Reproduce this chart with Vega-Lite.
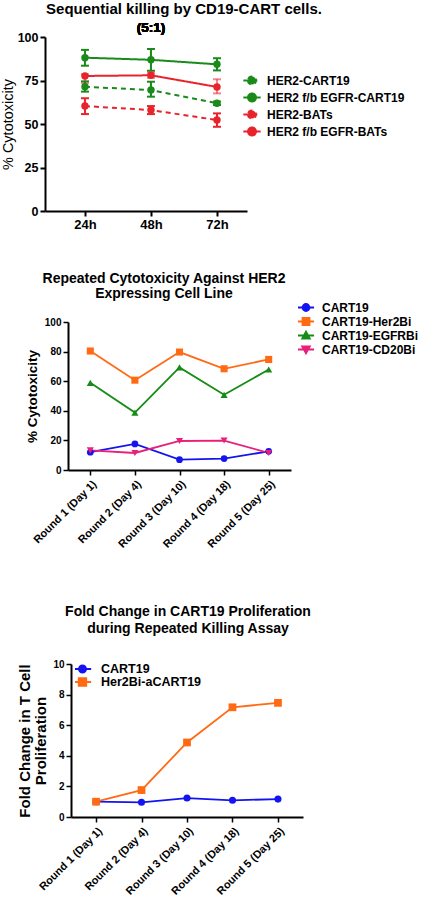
{
  "$schema": "https://vega.github.io/schema/vega-lite/v6.json",
  "padding": {"left": 0, "top": 2, "right": 0, "bottom": 0},
  "background": "white",
  "config": {
    "font": "Liberation Sans",
    "view": {"stroke": null},
    "axis": {"grid": false, "labelColor": "black", "titleColor": "black", "domainColor": "black", "tickColor": "black", "labelFontWeight": "bold", "titleFontWeight": "bold"},
    "legend": {"labelColor": "black"},
    "title": {"color": "black", "fontWeight": "bold"}
  },
  "resolve": {"scale": {"color": "independent", "shape": "independent", "strokeDash": "independent"}},
  "spacing": 40,
  "vconcat": [
    {
      "width": 202,
      "height": 174,
      "title": {"text": "Sequential killing by CD19-CART cells.", "fontSize": 15, "frame": "group", "anchor": "middle", "dx": 38, "offset": 4},
      "data": {"values": [
        {"series": "HER2-CART19", "time": "24h", "value": 71.4, "lo": 68.6, "hi": 74.5},
        {"series": "HER2-CART19", "time": "48h", "value": 69.5, "lo": 65.7, "hi": 74.3},
        {"series": "HER2-CART19", "time": "72h", "value": 61.9, "lo": 60.9, "hi": 62.9},
        {"series": "HER2 f/b EGFR-CART19", "time": "24h", "value": 88.1, "lo": 83.5, "hi": 92.6},
        {"series": "HER2 f/b EGFR-CART19", "time": "48h", "value": 86.9, "lo": 80.6, "hi": 93.1},
        {"series": "HER2 f/b EGFR-CART19", "time": "72h", "value": 84.3, "lo": 80.8, "hi": 87.8},
        {"series": "HER2-BATs", "time": "24h", "value": 60.3, "lo": 55.7, "hi": 64.8},
        {"series": "HER2-BATs", "time": "48h", "value": 58.0, "lo": 55.7, "hi": 60.3},
        {"series": "HER2-BATs", "time": "72h", "value": 52.3, "lo": 48.4, "hi": 56.1},
        {"series": "HER2 f/b EGFR-BATs", "time": "24h", "value": 77.6, "lo": 73.5, "hi": 78.6},
        {"series": "HER2 f/b EGFR-BATs", "time": "48h", "value": 78.0, "lo": 76.5, "hi": 79.5},
        {"series": "HER2 f/b EGFR-BATs", "time": "72h", "value": 71.3, "lo": 67.6, "hi": 75.7}
      ]},
      "encoding": {
        "x": {"field": "time", "type": "nominal", "scale": {"type": "point", "domain": ["24h", "48h", "72h"], "padding": 0.53, "align": 0.571},
              "axis": {"title": null, "labelAngle": 0, "labelFontSize": 13, "labelPadding": 2, "tickSize": 5, "tickWidth": 2, "domainWidth": 2}}
      },
      "layer": [
        {
          "mark": {"type": "rule", "strokeWidth": 2},
          "encoding": {
            "y": {"field": "lo", "type": "quantitative", "scale": {"domain": [0, 100], "nice": false}, "title": "% Cytotoxicity",
                  "axis": {"values": [0, 25, 50, 75, 100], "labelFontSize": 12.5, "labelPadding": 2, "tickSize": 5, "tickWidth": 2, "domainWidth": 2, "titleFontSize": 14.5, "titleFontWeight": "normal", "titlePadding": 2}},
            "y2": {"field": "hi"},
            "color": {"field": "series", "type": "nominal"},
            "opacity": {"condition": {"test": "datum.series === 'HER2 f/b EGFR-BATs'", "value": 0.55}, "value": 1}
          }
        },
        {
          "mark": {"type": "tick", "orient": "horizontal", "size": 8, "thickness": 2},
          "encoding": {
            "y": {"field": "lo", "type": "quantitative", "scale": {"domain": [0, 100], "nice": false}, "title": "% Cytotoxicity"},
            "color": {"field": "series", "type": "nominal"},
            "opacity": {"condition": {"test": "datum.series === 'HER2 f/b EGFR-BATs'", "value": 0.55}, "value": 1}
          }
        },
        {
          "mark": {"type": "tick", "orient": "horizontal", "size": 8, "thickness": 2},
          "encoding": {
            "y": {"field": "hi", "type": "quantitative", "scale": {"domain": [0, 100], "nice": false}, "title": "% Cytotoxicity"},
            "color": {"field": "series", "type": "nominal"},
            "opacity": {"condition": {"test": "datum.series === 'HER2 f/b EGFR-BATs'", "value": 0.55}, "value": 1}
          }
        },
        {
          "mark": {"type": "line", "strokeWidth": 2},
          "encoding": {
            "y": {"field": "value", "type": "quantitative", "scale": {"domain": [0, 100], "nice": false}, "title": "% Cytotoxicity"},
            "color": {"field": "series", "type": "nominal",
              "scale": {"domain": ["HER2-CART19", "HER2 f/b EGFR-CART19", "HER2-BATs", "HER2 f/b EGFR-BATs"], "range": ["#1a8a1a", "#1a8a1a", "#e8232b", "#e8232b"]},
              "legend": {
                "orient": "none", "legendX": 197, "legendY": 35, "title": null, "padding": 0,
                "symbolType": "M-1,0H1M-0.46,0A0.46,0.46,0,1,0,0.46,0A0.46,0.46,0,1,0,-0.46,0Z",
                "symbolSize": 300, "symbolStrokeWidth": 2, "labelFontSize": 12, "labelFontWeight": "bold", "labelOffset": 5,
                "clipHeight": 17, "rowPadding": 0,
                "encode": {"symbols": {"update": {
                  "fill": {"signal": "indexof(datum.value,'BATs')>=0 ? '#e8232b' : '#1a8a1a'"},
                  "stroke": {"signal": "indexof(datum.value,'BATs')>=0 ? '#e8232b' : '#1a8a1a'"},
                  "strokeDash": {"signal": "indexof(datum.value,'f/b')>=0 ? [] : [4,3]"},
                  "strokeWidth": {"value": 2},
                  "opacity": {"value": 1}
                }}}
              }
            },
            "strokeDash": {"field": "series", "type": "nominal",
              "scale": {"domain": ["HER2-CART19", "HER2 f/b EGFR-CART19", "HER2-BATs", "HER2 f/b EGFR-BATs"], "range": [[5, 4], [1, 0], [5, 4], [1, 0]]},
              "legend": null}
          }
        },
        {
          "mark": {"type": "point", "filled": true, "size": 55, "opacity": 1},
          "encoding": {
            "y": {"field": "value", "type": "quantitative", "scale": {"domain": [0, 100], "nice": false}, "title": "% Cytotoxicity"},
            "color": {"field": "series", "type": "nominal"}
          }
        },
        {
          "mark": {"type": "text", "fontSize": 13.5, "fontWeight": "bold", "baseline": "middle", "align": "center", "color": "black"},
          "encoding": {
            "x": {"datum": "48h"},
            "y": {"datum": 105, "type": "quantitative"},
            "text": {"value": "(5:1)"}
          }
        }
      ]
    },
    {
      "spacing": 55,
      "resolve": {"scale": {"color": "independent", "shape": "independent"}},
      "vconcat": [
        {
          "spacing": -21,
          "resolve": {"scale": {"color": "independent"}},
          "hconcat": [
            {"width": 1, "height": 1, "data": {"values": []}, "mark": "point"},
            {
              "width": 223,
              "height": 148,
              "title": {"text": ["Repeated Cytotoxicity Against HER2", "Expressing Cell Line"], "fontSize": 14, "lineHeight": 15, "frame": "group", "anchor": "middle", "dx": -15.5, "offset": 0},
              "data": {"values": [
                {"series": "CART19", "round": "Round 1 (Day 1)", "value": 12.0},
                {"series": "CART19", "round": "Round 2 (Day 4)", "value": 17.6},
                {"series": "CART19", "round": "Round 3 (Day 10)", "value": 7.0},
                {"series": "CART19", "round": "Round 4 (Day 18)", "value": 7.7},
                {"series": "CART19", "round": "Round 5 (Day 25)", "value": 12.6},
                {"series": "CART19-Her2Bi", "round": "Round 1 (Day 1)", "value": 80.4},
                {"series": "CART19-Her2Bi", "round": "Round 2 (Day 4)", "value": 60.7},
                {"series": "CART19-Her2Bi", "round": "Round 3 (Day 10)", "value": 79.7},
                {"series": "CART19-Her2Bi", "round": "Round 4 (Day 18)", "value": 68.4},
                {"series": "CART19-Her2Bi", "round": "Round 5 (Day 25)", "value": 74.7},
                {"series": "CART19-EGFRBi", "round": "Round 1 (Day 1)", "value": 58.9},
                {"series": "CART19-EGFRBi", "round": "Round 2 (Day 4)", "value": 38.8},
                {"series": "CART19-EGFRBi", "round": "Round 3 (Day 10)", "value": 69.3},
                {"series": "CART19-EGFRBi", "round": "Round 4 (Day 18)", "value": 50.8},
                {"series": "CART19-EGFRBi", "round": "Round 5 (Day 25)", "value": 67.9},
                {"series": "CART19-CD20Bi", "round": "Round 1 (Day 1)", "value": 13.3},
                {"series": "CART19-CD20Bi", "round": "Round 2 (Day 4)", "value": 11.5},
                {"series": "CART19-CD20Bi", "round": "Round 3 (Day 10)", "value": 19.6},
                {"series": "CART19-CD20Bi", "round": "Round 4 (Day 18)", "value": 19.9},
                {"series": "CART19-CD20Bi", "round": "Round 5 (Day 25)", "value": 11.5}
              ]},
              "encoding": {
                "x": {"field": "round", "type": "nominal",
                      "scale": {"type": "point", "domain": ["Round 1 (Day 1)", "Round 2 (Day 4)", "Round 3 (Day 10)", "Round 4 (Day 18)", "Round 5 (Day 25)"], "padding": 0.5},
                      "axis": {"title": null, "labelAngle": -45, "labelFontSize": 11, "labelPadding": 3, "tickSize": 5, "tickWidth": 1.5, "domainWidth": 2}},
                "y": {"field": "value", "type": "quantitative", "scale": {"domain": [0, 100], "nice": false}, "title": "% Cytotoxicity",
                      "axis": {"values": [0, 20, 40, 60, 80, 100], "labelFontSize": 10, "labelPadding": 2, "tickSize": 5, "tickWidth": 1.5, "domainWidth": 2, "titleFontSize": 13.5, "titlePadding": 5}}
              },
              "layer": [
                {
                  "mark": {"type": "line", "strokeWidth": 1.8},
                  "encoding": {
                    "color": {"field": "series", "type": "nominal",
                      "scale": {"domain": ["CART19", "CART19-Her2Bi", "CART19-EGFRBi", "CART19-CD20Bi"], "range": ["#1414f0", "#ff6a13", "#168c16", "#e8207a"]},
                      "legend": {
                        "orient": "none", "legendX": 230, "legendY": -21.5, "title": null, "padding": 0,
                        "symbolType": "M-1.15,0H1.15M-0.5,0A0.5,0.5,0,1,0,0.5,0A0.5,0.5,0,1,0,-0.5,0Z",
                        "symbolSize": 196, "symbolStrokeWidth": 1.8, "labelFontSize": 12, "labelFontWeight": "bold", "labelOffset": 8,
                        "clipHeight": 14, "rowPadding": 0,
                        "encode": {"symbols": {"update": {
                          "shape": {"signal": "datum.value==='CART19' ? 'M-1.15,0H1.15M-0.5,0A0.5,0.5,0,1,0,0.5,0A0.5,0.5,0,1,0,-0.5,0Z' : datum.value==='CART19-Her2Bi' ? 'M-1.15,0H1.15M-0.5,-0.5H0.5V0.5H-0.5Z' : datum.value==='CART19-EGFRBi' ? 'M-1.15,0H1.15M0,-0.55L0.55,0.45H-0.55Z' : 'M-1.15,0H1.15M0,0.55L0.55,-0.45H-0.55Z'"},
                          "fill": {"signal": "datum.value==='CART19' ? '#1414f0' : datum.value==='CART19-Her2Bi' ? '#ff6a13' : datum.value==='CART19-EGFRBi' ? '#168c16' : '#e8207a'"},
                          "stroke": {"signal": "datum.value==='CART19' ? '#1414f0' : datum.value==='CART19-Her2Bi' ? '#ff6a13' : datum.value==='CART19-EGFRBi' ? '#168c16' : '#e8207a'"},
                          "strokeWidth": {"value": 1.8},
                          "opacity": {"value": 1}
                        }}}
                      }
                    }
                  }
                },
                {
                  "transform": [{"filter": {"field": "series", "equal": "CART19"}}],
                  "mark": {"type": "point", "filled": true, "size": 45, "opacity": 1, "shape": "circle"},
                  "encoding": {"color": {"field": "series", "type": "nominal", "legend": null}}
                },
                {
                  "transform": [{"filter": {"field": "series", "equal": "CART19-Her2Bi"}}],
                  "mark": {"type": "point", "filled": true, "size": 50, "opacity": 1, "shape": "square"},
                  "encoding": {"color": {"field": "series", "type": "nominal", "legend": null}}
                },
                {
                  "transform": [{"filter": {"field": "series", "equal": "CART19-EGFRBi"}}],
                  "mark": {"type": "point", "filled": true, "size": 50, "opacity": 1, "shape": "triangle-up"},
                  "encoding": {"color": {"field": "series", "type": "nominal", "legend": null}}
                },
                {
                  "transform": [{"filter": {"field": "series", "equal": "CART19-CD20Bi"}}],
                  "mark": {"type": "point", "filled": true, "size": 50, "opacity": 1, "shape": "triangle-down"},
                  "encoding": {"color": {"field": "series", "type": "nominal", "legend": null}}
                }
              ]
            }
          ]
        },
        {
          "spacing": -29,
          "resolve": {"scale": {"color": "independent"}},
          "hconcat": [
            {"width": 1, "height": 1, "data": {"values": []}, "mark": "point"},
            {
              "width": 232,
              "height": 153,
              "title": {"text": ["Fold Change in CART19 Proliferation", "during Repeated Killing Assay"], "fontSize": 14, "lineHeight": 17, "frame": "group", "anchor": "middle", "dx": 1, "offset": 23},
              "data": {"values": [
                {"series": "CART19", "round": "Round 1 (Day 1)", "value": 1.0},
                {"series": "CART19", "round": "Round 2 (Day 4)", "value": 0.96},
                {"series": "CART19", "round": "Round 3 (Day 10)", "value": 1.24},
                {"series": "CART19", "round": "Round 4 (Day 18)", "value": 1.09},
                {"series": "CART19", "round": "Round 5 (Day 25)", "value": 1.17},
                {"series": "Her2Bi-aCART19", "round": "Round 1 (Day 1)", "value": 1.0},
                {"series": "Her2Bi-aCART19", "round": "Round 2 (Day 4)", "value": 1.76},
                {"series": "Her2Bi-aCART19", "round": "Round 3 (Day 10)", "value": 4.87},
                {"series": "Her2Bi-aCART19", "round": "Round 4 (Day 18)", "value": 7.17},
                {"series": "Her2Bi-aCART19", "round": "Round 5 (Day 25)", "value": 7.46}
              ]},
              "encoding": {
                "x": {"field": "round", "type": "nominal",
                      "scale": {"type": "point", "domain": ["Round 1 (Day 1)", "Round 2 (Day 4)", "Round 3 (Day 10)", "Round 4 (Day 18)", "Round 5 (Day 25)"], "padding": 0.55},
                      "axis": {"title": null, "labelAngle": -45, "labelFontSize": 11, "labelPadding": 3, "tickSize": 5, "tickWidth": 1.5, "domainWidth": 2}},
                "y": {"field": "value", "type": "quantitative", "scale": {"domain": [0, 10], "nice": false}, "title": ["Fold Change in T Cell", "Proliferation"],
                      "axis": {"values": [0, 2, 4, 6, 8, 10], "labelFontSize": 10, "labelPadding": 2, "tickSize": 5, "tickWidth": 1.5, "domainWidth": 2, "titleFontSize": 15, "titleLineHeight": 16, "titlePadding": 4}}
              },
              "layer": [
                {
                  "mark": {"type": "line", "strokeWidth": 1.8},
                  "encoding": {
                    "color": {"field": "series", "type": "nominal",
                      "scale": {"domain": ["CART19", "Her2Bi-aCART19"], "range": ["#1414f0", "#ff6a13"]},
                      "legend": {
                        "orient": "none", "legendX": 4, "legendY": -1.5, "title": null, "padding": 0,
                        "symbolType": "M-1.33,0H1.33M-0.55,0A0.55,0.55,0,1,0,0.55,0A0.55,0.55,0,1,0,-0.55,0Z",
                        "symbolSize": 169, "symbolStrokeWidth": 1.8, "labelFontSize": 12.5, "labelFontWeight": "bold", "labelOffset": 11,
                        "clipHeight": 13, "rowPadding": 0,
                        "encode": {"symbols": {"update": {
                          "shape": {"signal": "datum.value==='CART19' ? 'M-1.33,0H1.33M-0.55,0A0.55,0.55,0,1,0,0.55,0A0.55,0.55,0,1,0,-0.55,0Z' : 'M-1.33,0H1.33M-0.58,-0.58H0.58V0.58H-0.58Z'"},
                          "fill": {"signal": "datum.value==='CART19' ? '#1414f0' : '#ff6a13'"},
                          "stroke": {"signal": "datum.value==='CART19' ? '#1414f0' : '#ff6a13'"},
                          "strokeWidth": {"value": 1.8},
                          "opacity": {"value": 1}
                        }}}
                      }
                    }
                  }
                },
                {
                  "transform": [{"filter": {"field": "series", "equal": "CART19"}}],
                  "mark": {"type": "point", "filled": true, "size": 50, "opacity": 1, "shape": "circle"},
                  "encoding": {"color": {"field": "series", "type": "nominal", "legend": null}}
                },
                {
                  "transform": [{"filter": {"field": "series", "equal": "Her2Bi-aCART19"}}],
                  "mark": {"type": "point", "filled": true, "size": 60, "opacity": 1, "shape": "square"},
                  "encoding": {"color": {"field": "series", "type": "nominal", "legend": null}}
                }
              ]
            }
          ]
        }
      ]
    }
  ]
}
